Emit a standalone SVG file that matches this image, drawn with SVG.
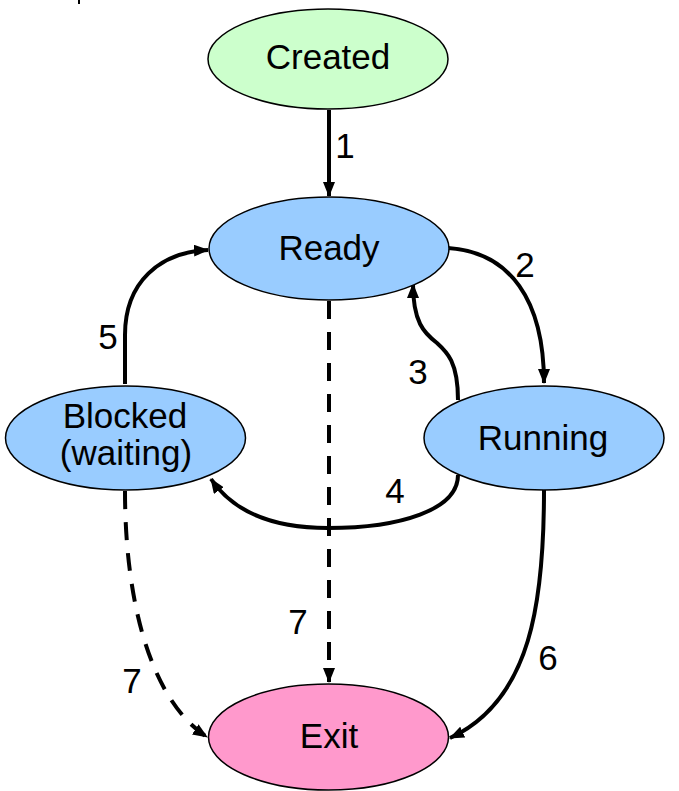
<svg xmlns="http://www.w3.org/2000/svg" width="679" height="791" viewBox="0 0 679 791">
<style>
.node{stroke:#000;stroke-width:1.5}
.lbl{font-family:"Liberation Sans",Arial,sans-serif;font-size:35px;fill:#000;text-anchor:middle}
.edge{fill:none;stroke:#000;stroke-width:4}
.dash{stroke-dasharray:18 13}
</style>
<defs>
<marker id="ah" viewBox="0 0 15 12" refX="14" refY="6" markerWidth="15" markerHeight="12" markerUnits="userSpaceOnUse" orient="auto">
<path d="M0,0 L15,6 L0,12 Z" fill="#000"/>
</marker>
</defs>
<rect width="679" height="791" fill="#fff"/>
<rect x="78" y="0" width="2" height="4" fill="#000"/>
<g id="connectors">
<path class="edge" d="M329,110 L329,196" marker-end="url(#ah)"/>
<path class="edge" d="M448,248 C510,252 544,300 544,383" marker-end="url(#ah)"/>
<path class="edge" d="M458,400 C458,362 447,352 437,343 C424,333 413,322 413,284" marker-end="url(#ah)"/>
<path class="edge" d="M458,475 C458,510 400,528 328,528 C270,528 232,510 211,479" marker-end="url(#ah)"/>
<path class="edge" d="M125,384 L125,335 C125,282 160,252 208,250" marker-end="url(#ah)"/>
<path class="edge" d="M544,490 C544,600 532,700 450,738" marker-end="url(#ah)"/>
<path class="edge dash" d="M329,301 L329,682" marker-end="url(#ah)"/>
<path class="edge dash" d="M125,491 C125,600 150,700 207,737" marker-end="url(#ah)"/>
<text class="lbl" x="345" y="158">1</text>
<text class="lbl" x="525" y="277">2</text>
<text class="lbl" x="418" y="384">3</text>
<text class="lbl" x="395" y="503">4</text>
<text class="lbl" x="108" y="349">5</text>
<text class="lbl" x="548" y="670">6</text>
<text class="lbl" x="298" y="634">7</text>
<text class="lbl" x="132" y="693">7</text>
</g>
<g id="created">
<ellipse class="node" cx="328" cy="59" rx="120" ry="50" fill="#ccffcc"/>
<text class="lbl" x="328" y="69">Created</text>
</g>
<g id="ready">
<ellipse class="node" cx="329" cy="248.5" rx="120" ry="51.5" fill="#99ccff"/>
<text class="lbl" x="329" y="260">Ready</text>
</g>
<g id="blocked">
<ellipse class="node" cx="125.5" cy="438" rx="120" ry="52" fill="#99ccff"/>
<text class="lbl" x="125" y="428">Blocked</text>
<text class="lbl" x="126" y="465">(waiting)</text>
</g>
<g id="running">
<ellipse class="node" cx="544" cy="438" rx="120" ry="52" fill="#99ccff"/>
<text class="lbl" x="543" y="450">Running</text>
</g>
<g id="exit">
<ellipse class="node" cx="328.5" cy="737" rx="120" ry="53" fill="#ff99cc"/>
<text class="lbl" x="329" y="748">Exit</text>
</g>
</svg>
